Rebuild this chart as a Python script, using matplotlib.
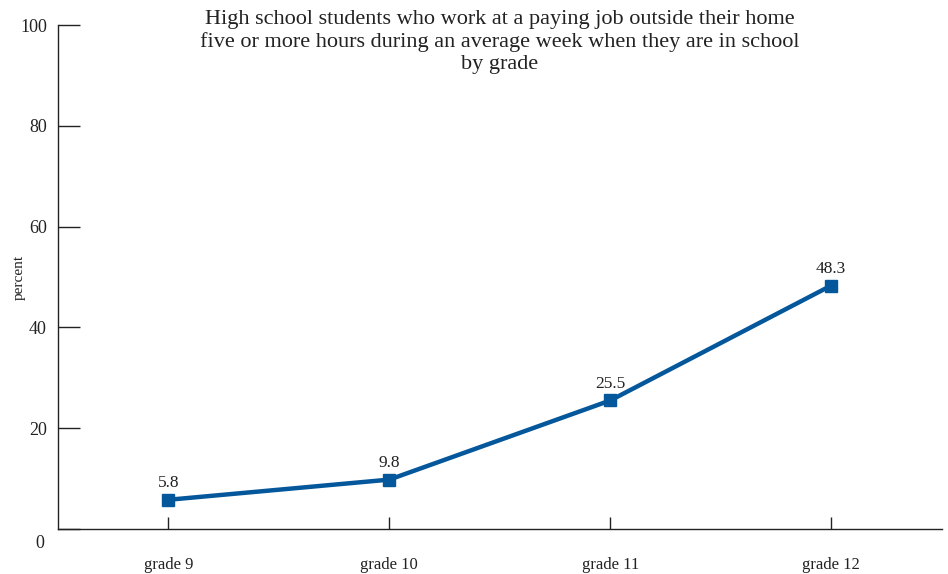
import matplotlib.pyplot as plt

# data
grades = ["grade 9", "grade 10", "grade 11", "grade 12"]
percent = [5.8, 9.8, 25.5, 48.3]
yticks = [0, 20, 40, 60, 80, 100]

plt.rcParams['font.family'] = ['Liberation Serif', 'DejaVu Serif']

blue = '#04579b'
dark = '#222222'

fig = plt.figure(figsize=(9.48, 5.74), dpi=100)
ax = fig.add_axes([0.0612, 0.0784, 0.932, 0.878])

x = list(range(len(grades)))
ax.plot(x, percent, color=blue, linewidth=3.2, marker='s', markersize=8.5,
        markeredgecolor=blue, zorder=3)

for xi, v in zip(x, percent):
    ax.annotate(f"{v}", (xi, v), xytext=(0, 6), textcoords='offset points',
                ha='center', va='bottom', fontsize=12.5, color=dark)

ax.set_xlim(-0.5, 3.5)
ax.set_ylim(0, 100)

ax.spines['top'].set_visible(False)
ax.spines['right'].set_visible(False)
for s in ['left', 'bottom']:
    ax.spines[s].set_color(dark)
    ax.spines[s].set_linewidth(1.0)

ax.set_yticks(yticks)
ax.set_yticklabels([str(t) if t else "" for t in yticks])
ax.tick_params(axis='y', direction='in', length=16, width=1, color=dark,
               labelsize=13, labelcolor=dark, pad=8)
ax.set_xticks(x)
ax.set_xticklabels(grades)
ax.tick_params(axis='x', direction='in', length=9, width=1, color=dark,
               labelsize=12, labelcolor=dark, pad=20)

# the 0 label sits a little below the axis
ax.annotate("0", (0, 0), xycoords='axes fraction', xytext=(-10, -4),
            textcoords='offset points', ha='right', va='top', fontsize=13, color=dark)

ax.set_ylabel("percent", fontsize=11, color=dark)
ax.yaxis.set_label_coords(-0.036, 0.5)

fig.text(0.527, 0.982, "High school students who work at a paying job outside their home\n"
         "five or more hours during an average week when they are in school\n"
         "by grade", ha='center', va='top', fontsize=16, color=dark, linespacing=1.2)

fig.savefig("out.png", dpi=100)
